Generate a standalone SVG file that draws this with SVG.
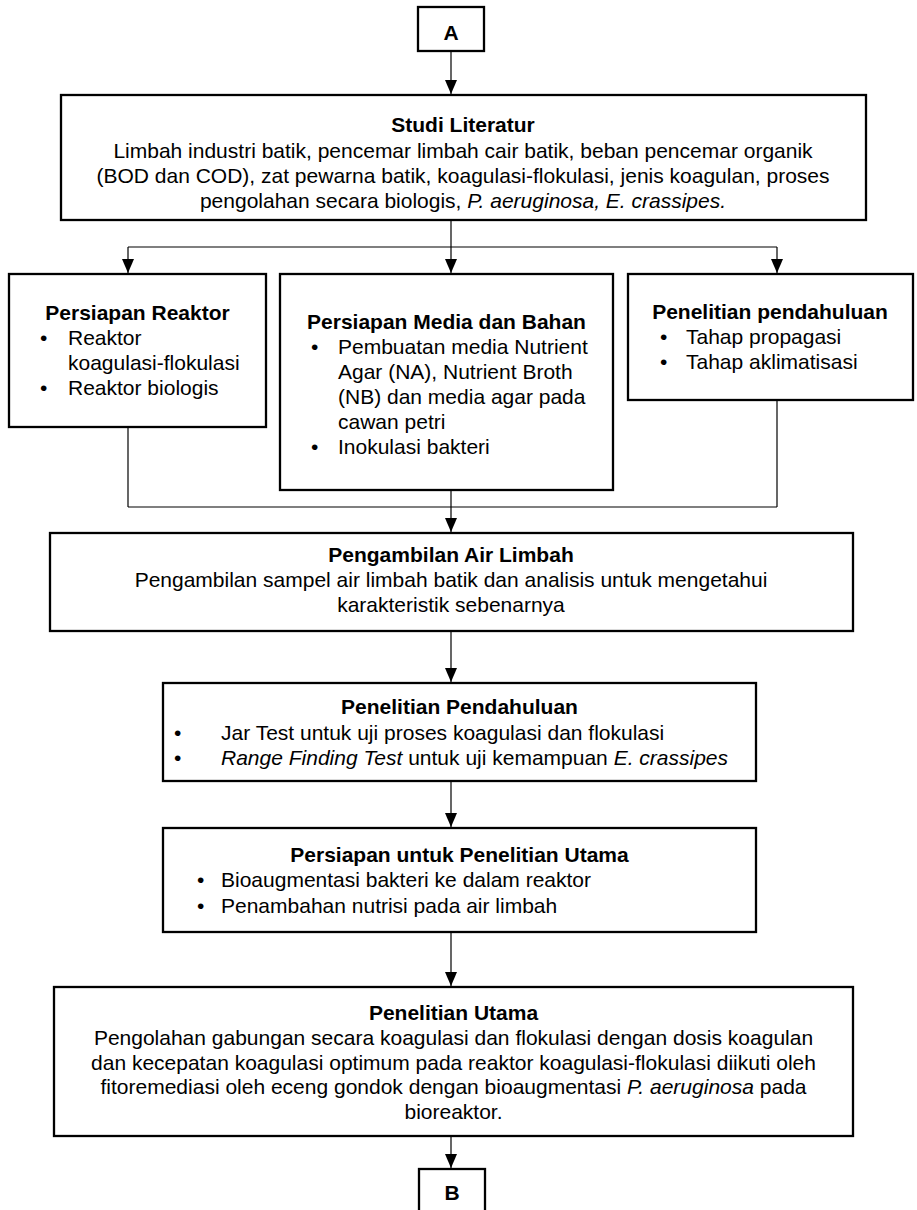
<svg xmlns="http://www.w3.org/2000/svg" width="917" height="1210" viewBox="0 0 917 1210">
<style>
.box{fill:#fff;stroke:#000;stroke-width:2.3}
.ln{fill:none;stroke:#000;stroke-width:1.2}
text{font-family:"Liberation Sans",Arial,sans-serif;font-size:21px;fill:#000}
.h{font-weight:bold}
.c{text-anchor:middle}
.i{font-style:italic}
</style>
<defs>
<marker id="arr" markerUnits="userSpaceOnUse" viewBox="0 0 14 12" refX="14" refY="6" markerWidth="14" markerHeight="12" orient="auto">
<path d="M0,0 L14,6 L0,12 z" fill="#000"/>
</marker>
</defs>
<rect width="917" height="1210" fill="#fff"/>
<g id="connectors">
<line class="ln" x1="451" y1="52" x2="451" y2="94" marker-end="url(#arr)"/>
<line class="ln" x1="451" y1="221" x2="451" y2="247"/>
<line class="ln" x1="128" y1="247" x2="777" y2="247"/>
<line class="ln" x1="128" y1="247" x2="128" y2="273" marker-end="url(#arr)"/>
<line class="ln" x1="451" y1="247" x2="451" y2="273" marker-end="url(#arr)"/>
<line class="ln" x1="777" y1="247" x2="777" y2="273" marker-end="url(#arr)"/>
<line class="ln" x1="128" y1="428" x2="128" y2="507"/>
<line class="ln" x1="777" y1="401" x2="777" y2="507"/>
<line class="ln" x1="128" y1="507" x2="777" y2="507"/>
<line class="ln" x1="451" y1="491" x2="451" y2="532" marker-end="url(#arr)"/>
<line class="ln" x1="451" y1="632" x2="451" y2="682" marker-end="url(#arr)"/>
<line class="ln" x1="451" y1="782" x2="451" y2="827" marker-end="url(#arr)"/>
<line class="ln" x1="451" y1="933" x2="451" y2="986" marker-end="url(#arr)"/>
<line class="ln" x1="451" y1="1137" x2="451" y2="1168" marker-end="url(#arr)"/>
</g>
<g id="nodeA">
<rect class="box" x="418" y="7" width="66" height="44"/>
<text class="h c" x="451" y="40">A</text>
</g>
<g id="studi">
<rect class="box" x="61" y="95" width="805" height="125"/>
<text class="h c" x="463" y="132">Studi Literatur</text>
<text class="c" x="463" y="158">Limbah industri batik, pencemar limbah cair batik, beban pencemar organik</text>
<text class="c" x="463" y="183">(BOD dan COD), zat pewarna batik, koagulasi-flokulasi, jenis koagulan, proses</text>
<text class="c" x="463" y="208">pengolahan secara biologis, <tspan class="i">P. aeruginosa, E. crassipes.</tspan></text>
</g>
<g id="reaktor">
<rect class="box" x="9" y="274" width="257" height="153"/>
<text class="h c" x="137.5" y="320">Persiapan Reaktor</text>
<text x="40" y="345">•</text>
<text x="68" y="345">Reaktor</text>
<text x="68" y="370">koagulasi-flokulasi</text>
<text x="40" y="395">•</text>
<text x="68" y="395">Reaktor biologis</text>
</g>
<g id="media">
<rect class="box" x="280" y="274" width="333" height="216"/>
<text class="h c" x="446.5" y="329">Persiapan Media dan Bahan</text>
<text x="311" y="354">•</text>
<text x="338" y="354">Pembuatan media Nutrient</text>
<text x="338" y="379">Agar (NA), Nutrient Broth</text>
<text x="338" y="404">(NB) dan media agar pada</text>
<text x="338" y="429">cawan petri</text>
<text x="311" y="454">•</text>
<text x="338" y="454">Inokulasi bakteri</text>
</g>
<g id="pendahuluan1">
<rect class="box" x="628" y="274" width="285" height="126"/>
<text class="h c" x="770" y="319">Penelitian pendahuluan</text>
<text x="660" y="344">•</text>
<text x="686" y="344">Tahap propagasi</text>
<text x="660" y="369">•</text>
<text x="686" y="369">Tahap aklimatisasi</text>
</g>
<g id="pengambilan">
<rect class="box" x="50" y="533" width="803" height="98"/>
<text class="h c" x="451" y="562">Pengambilan Air Limbah</text>
<text class="c" x="451" y="587">Pengambilan sampel air limbah batik dan analisis untuk mengetahui</text>
<text class="c" x="451" y="612">karakteristik sebenarnya</text>
</g>
<g id="pendahuluan2">
<rect class="box" x="163" y="683" width="593" height="98"/>
<text class="h c" x="459.5" y="714">Penelitian Pendahuluan</text>
<text x="174" y="740">•</text>
<text x="221" y="740">Jar Test untuk uji proses koagulasi dan flokulasi</text>
<text x="174" y="765">•</text>
<text x="221" y="765"><tspan class="i">Range Finding Test</tspan> untuk uji kemampuan <tspan class="i">E. crassipes</tspan></text>
</g>
<g id="persiapanUtama">
<rect class="box" x="163" y="828" width="593" height="104"/>
<text class="h c" x="459.5" y="862">Persiapan untuk Penelitian Utama</text>
<text x="197" y="887">•</text>
<text x="221" y="887">Bioaugmentasi bakteri ke dalam reaktor</text>
<text x="197" y="913">•</text>
<text x="221" y="913">Penambahan nutrisi pada air limbah</text>
</g>
<g id="utama">
<rect class="box" x="54" y="987" width="799" height="149"/>
<text class="h c" x="453.5" y="1020">Penelitian Utama</text>
<text class="c" x="453.5" y="1045">Pengolahan gabungan secara koagulasi dan flokulasi dengan dosis koagulan</text>
<text class="c" x="453.5" y="1070">dan kecepatan koagulasi optimum pada reaktor koagulasi-flokulasi diikuti oleh</text>
<text class="c" x="453.5" y="1094">fitoremediasi oleh eceng gondok dengan bioaugmentasi <tspan class="i">P. aeruginosa</tspan> pada</text>
<text class="c" x="453.5" y="1119">bioreaktor.</text>
</g>
<g id="nodeB">
<rect class="box" x="419" y="1169" width="66" height="50"/>
<text class="h c" x="452" y="1200">B</text>
</g>
</svg>
